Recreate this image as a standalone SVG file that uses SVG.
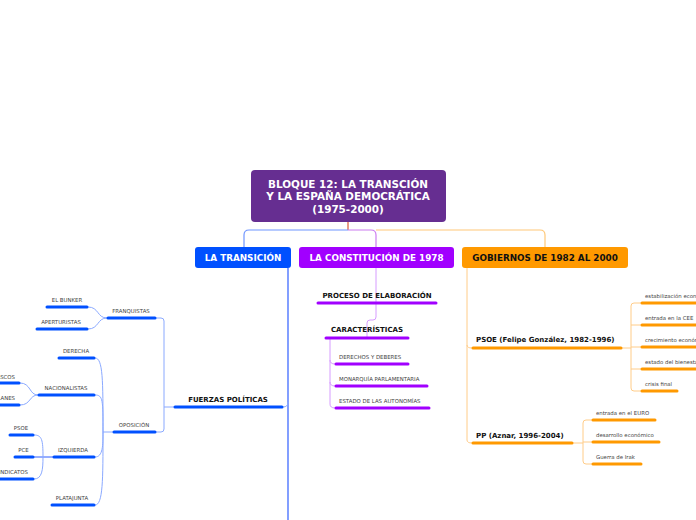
<svg xmlns="http://www.w3.org/2000/svg" width="696" height="520" viewBox="0 0 696 520">
<style>
.t{font-family:"DejaVu Sans",Verdana,sans-serif}
.rt{font-size:10.4px;font-weight:bold;fill:#fff;text-anchor:middle}
.mt{font-size:8.8px;font-weight:bold;text-anchor:middle}
.h{font-size:7px;font-weight:bold;fill:#111}
.s{font-size:5.4px;fill:#444}
.ub{stroke:#0050ff;stroke-width:3;stroke-linecap:round;fill:none}
.up{stroke:#a100ff;stroke-width:3;stroke-linecap:round;fill:none}
.uo{stroke:#ff9900;stroke-width:3;stroke-linecap:round;fill:none}
.cb{stroke:#8aa9ff;stroke-width:1;fill:none}
.cp{stroke:#d69cff;stroke-width:1;fill:none}
.co{stroke:#ffcc88;stroke-width:1;fill:none}
</style>
<g id="connectors">
<path d="M348,222 V230" stroke="#e07a5f" stroke-width="1.5" fill="none"/>
<path d="M348,230 H249 Q244,230 244,235 V247" stroke="#6f95ff" stroke-width="1.2" fill="none"/>
<path d="M348,230 H371 Q376,230 376,235 V247" stroke="#cc7df0" stroke-width="1.2" fill="none"/>
<path d="M376,230 H540 Q545,230 545,235 V247" stroke="#ffc878" stroke-width="1.2" fill="none"/>
<path d="M288,268 V520" stroke="#2f5eff" stroke-width="1.2" fill="none"/>
<path d="M283,407 Q288,407 288,402" class="cb"/>
<path d="M174,407 H164 M156,318 H161 Q164,318 164,321 V429 Q164,432 161,432 H156" class="cb"/>
<path d="M107,318 C97,318 99,307 88,307 M107,318 C97,318 99,329 88,329" class="cb"/>
<path d="M113,432 H103 C103,380 103,358 95,358 M103,432 C103,400 103,395 95,395 M103,432 C103,445 103,457 95,457 M103,432 C103,480 103,505 95,505" class="cb"/>
<path d="M38,395 C29,395 31,383 20,383 M38,395 C29,395 31,405 20,405" class="cb"/>
<path d="M53,457 H34" stroke="#2f5eff" stroke-width="1" fill="none"/>
<path d="M43,457 C43,440 42,435 34,435 M43,457 C43,470 42,479 34,479" class="cb"/>
<path d="M376,268 V303 M376,303 V317 Q376,320 373,320 H370 Q367,320 367,323 V338" class="cp"/>
<path d="M330,338 V360 Q330,364 335,364 M330,360 V382 Q330,386 335,386 M330,382 V404 Q330,408 335,408" class="cp"/>
<path d="M467,268 V440 Q467,443 472,443 M467,345 Q467,348 472,348" class="co"/>
<path d="M622,348 H631 M631,348 V306 Q631,303 634,303 H641 M631,325 H641 M631,347 H641 M631,348 V388 Q631,391 634,391 H641 M631,369 H641" class="co"/>
<path d="M573,443 H583 V423 Q583,420 586,420 H592 M583,442 H592 M583,443 V461 Q583,464 586,464 H592" class="co"/>
</g>
<g id="root">
<rect x="251" y="170" width="195" height="52" rx="4" fill="#662e91"/>
<text class="t rt" x="348" y="188">BLOQUE 12: LA TRANSCIÓN</text>
<text class="t rt" x="348" y="200">Y LA ESPAÑA DEMOCRÁTICA</text>
<text class="t rt" x="348" y="213">(1975-2000)</text>
</g>
<g id="transicion">
<rect x="195" y="247" width="96" height="21" rx="3" fill="#0050ff"/>
<text class="t mt" x="243" y="261" fill="#fff">LA TRANSICIÓN</text>
</g>
<g id="constitucion">
<rect x="299" y="247" width="155" height="21" rx="3" fill="#a100ff"/>
<text class="t mt" x="376.5" y="261" fill="#fff">LA CONSTITUCIÓN DE 1978</text>
</g>
<g id="gobiernos">
<rect x="462" y="247" width="166" height="21" rx="3" fill="#ff9900"/>
<text class="t mt" x="545" y="261" fill="#111">GOBIERNOS DE 1982 AL 2000</text>
</g>
<g id="fuerzas">
<line class="ub" x1="175" y1="407" x2="282" y2="407"/>
<text class="t h" x="228" y="402" text-anchor="middle" font-size="8">FUERZAS POLÍTICAS</text>
</g>
<g id="franquistas">
<line class="ub" x1="108" y1="318" x2="155" y2="318"/>
<text class="t s" x="131" y="313" text-anchor="middle">FRANQUISTAS</text>
</g>
<g id="bunker">
<line class="ub" x1="47" y1="307" x2="87" y2="307"/>
<text class="t s" x="67" y="302" text-anchor="middle">EL BUNKER</text>
</g>
<g id="aperturistas">
<line class="ub" x1="37" y1="329" x2="87" y2="329"/>
<text class="t s" x="61" y="324" text-anchor="middle">APERTURISTAS</text>
</g>
<g id="oposicion">
<line class="ub" x1="114" y1="432" x2="155" y2="432"/>
<text class="t s" x="134" y="427" text-anchor="middle">OPOSICIÓN</text>
</g>
<g id="derecha">
<line class="ub" x1="59" y1="358" x2="94" y2="358"/>
<text class="t s" x="76" y="353" text-anchor="middle">DERECHA</text>
</g>
<g id="nacionalistas">
<line class="ub" x1="39" y1="395" x2="94" y2="395"/>
<text class="t s" x="66" y="390" text-anchor="middle">NACIONALISTAS</text>
</g>
<g id="vascos">
<line class="ub" x1="-10" y1="383" x2="19" y2="383"/>
<text class="t s" x="15" y="379" text-anchor="end">VASCOS</text>
</g>
<g id="catalanes">
<line class="ub" x1="-10" y1="405" x2="19" y2="405"/>
<text class="t s" x="15" y="400" text-anchor="end">CATALANES</text>
</g>
<g id="izquierda">
<line class="ub" x1="54" y1="457" x2="94" y2="457"/>
<text class="t s" x="73" y="452" text-anchor="middle">IZQUIERDA</text>
</g>
<g id="psoe-i">
<line class="ub" x1="10" y1="435" x2="33" y2="435"/>
<text class="t s" x="21" y="430" text-anchor="middle">PSOE</text>
</g>
<g id="pce">
<line class="ub" x1="15" y1="457" x2="33" y2="457"/>
<text class="t s" x="23.5" y="452" text-anchor="middle">PCE</text>
</g>
<g id="sindicatos">
<line class="ub" x1="-10" y1="479" x2="33" y2="479"/>
<text class="t s" x="28" y="474" text-anchor="end">SINDICATOS</text>
</g>
<g id="platajunta">
<line class="ub" x1="52" y1="505" x2="94" y2="505"/>
<text class="t s" x="72" y="500" text-anchor="middle">PLATAJUNTA</text>
</g>
<g id="proceso">
<line class="up" x1="318" y1="303" x2="436" y2="303"/>
<text class="t h" x="377" y="298" text-anchor="middle">PROCESO DE ELABORACIÓN</text>
</g>
<g id="caracteristicas">
<line class="up" x1="326" y1="338" x2="408" y2="338"/>
<text class="t h" x="367" y="332" text-anchor="middle">CARACTERÍSTICAS</text>
</g>
<g id="derechos">
<line class="up" x1="336" y1="364" x2="408" y2="364"/>
<text class="t s" x="339" y="359">DERECHOS Y DEBERES</text>
</g>
<g id="monarquia">
<line class="up" x1="336" y1="386" x2="427" y2="386"/>
<text class="t s" x="339" y="381">MONARQUÍA PARLAMENTARIA</text>
</g>
<g id="autonomias">
<line class="up" x1="336" y1="408" x2="429" y2="408"/>
<text class="t s" x="339" y="403">ESTADO DE LAS AUTONOMÍAS</text>
</g>
<g id="psoe">
<line class="uo" x1="473" y1="348" x2="621" y2="348"/>
<text class="t h" x="476" y="342">PSOE (Felipe González, 1982-1996)</text>
</g>
<g id="estabilizacion">
<line class="uo" x1="642" y1="303" x2="700" y2="303"/>
<text class="t s" x="645" y="298">estabilización económica</text>
</g>
<g id="cee">
<line class="uo" x1="642" y1="325" x2="700" y2="325"/>
<text class="t s" x="645" y="320">entrada en la CEE</text>
</g>
<g id="crecimiento">
<line class="uo" x1="642" y1="347" x2="700" y2="347"/>
<text class="t s" x="645" y="342">crecimiento económico</text>
</g>
<g id="bienestar">
<line class="uo" x1="642" y1="369" x2="700" y2="369"/>
<text class="t s" x="645" y="364">estado del bienestar</text>
</g>
<g id="crisis">
<line class="uo" x1="642" y1="391" x2="677" y2="391"/>
<text class="t s" x="645" y="386">crisis final</text>
</g>
<g id="pp">
<line class="uo" x1="473" y1="443" x2="572" y2="443"/>
<text class="t h" x="476" y="438">PP (Aznar, 1996-2004)</text>
</g>
<g id="euro">
<line class="uo" x1="593" y1="420" x2="655" y2="420"/>
<text class="t s" x="596" y="415">entrada en el EURO</text>
</g>
<g id="desarrollo">
<line class="uo" x1="593" y1="442" x2="659" y2="442"/>
<text class="t s" x="596" y="437">desarrollo económico</text>
</g>
<g id="irak">
<line class="uo" x1="593" y1="464" x2="641" y2="464"/>
<text class="t s" x="596" y="459">Guerra de Irak</text>
</g>
</svg>
